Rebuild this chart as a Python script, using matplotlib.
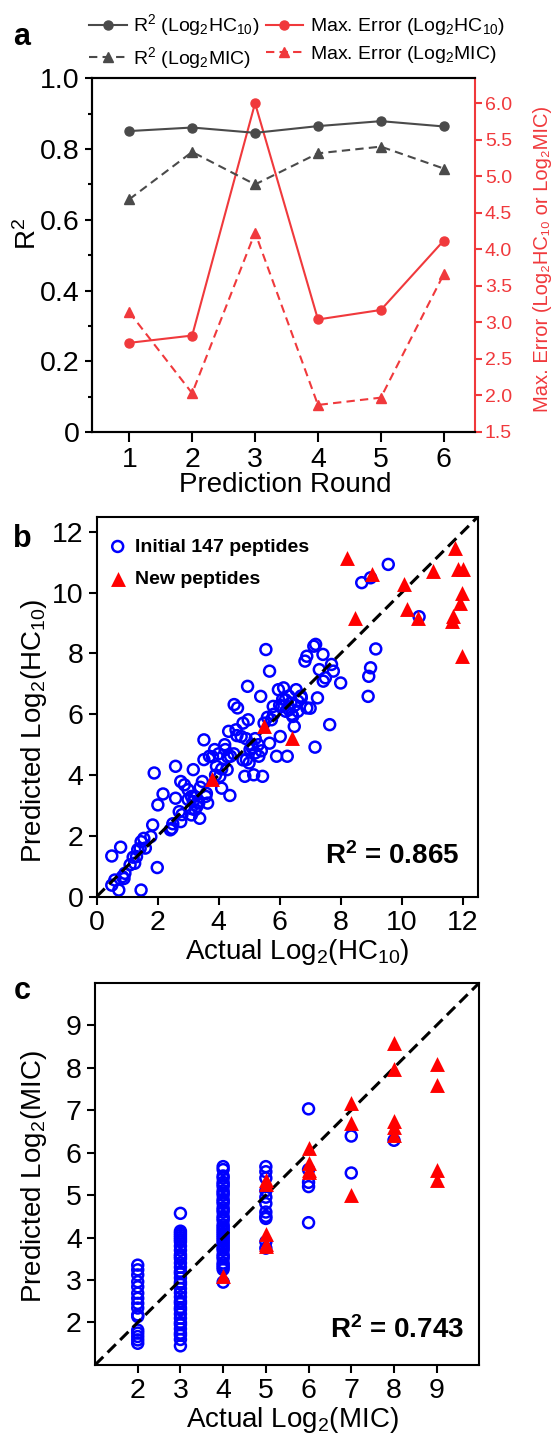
import matplotlib
matplotlib.use('Agg')
import matplotlib.pyplot as plt
import numpy as np
from matplotlib.ticker import MultipleLocator

plt.rcParams['font.family'] = ['Liberation Sans', 'DejaVu Sans']
plt.rcParams['mathtext.fontset'] = 'custom'
plt.rcParams['mathtext.rm'] = 'Liberation Sans'
plt.rcParams['mathtext.it'] = 'Liberation Sans:italic'
plt.rcParams['mathtext.bf'] = 'Liberation Sans:bold'

# ---------------- Panel a data ----------------
rounds = [1, 2, 3, 4, 5, 6]
r2_hc10 = [0.851, 0.861, 0.846, 0.865, 0.879, 0.864]
r2_mic = [0.658, 0.792, 0.700, 0.788, 0.807, 0.745]
maxerr_hc10 = [2.72, 2.82, 6.00, 3.04, 3.17, 4.12]
maxerr_mic = [3.14, 2.03, 4.23, 1.87, 1.97, 3.66]
r2_ticks = [0, 0.2, 0.4, 0.6, 0.8, 1.0]
r2_ticklabels = ['0', '0.2', '0.4', '0.6', '0.8', '1.0']
err_ticks = [1.5, 2.0, 2.5, 3.0, 3.5, 4.0, 4.5, 5.0, 5.5, 6.0]

# ---------------- Panel b data (HC10) ----------------
b_init_actual = [0.50, 0.79, 0.50, 0.73, 0.85, 0.93, 1.46, 1.25, 1.31, 1.43, 1.46, 1.55,
                 1.78, 1.84, 1.99, 1.89, 2.01, 2.18, 2.42, 2.47, 2.59, 2.59, 2.71, 2.76,
                 2.76, 2.88, 3.00, 3.11, 3.17, 3.23, 3.11, 3.29, 3.35, 3.38, 3.17, 3.52,
                 3.52, 3.64, 3.58, 3.47, 3.70, 3.87, 3.93, 4.04, 4.10, 4.22, 4.28, 4.37,
                 4.33, 4.39, 4.51, 4.62, 4.57, 4.74, 4.80, 4.86, 4.91, 4.95, 4.97, 5.03,
                 5.09, 5.15, 5.20, 5.32, 5.38, 5.44, 5.49, 5.55, 5.67, 5.67, 5.73, 5.79,
                 5.90, 6.02, 5.96, 6.07, 6.13, 6.19, 6.25, 6.31, 6.37, 6.43, 6.48, 6.54,
                 6.60, 6.71, 6.83, 6.89, 6.89, 7.12, 7.18, 7.24, 7.16, 7.30, 7.42, 7.43,
                 7.64, 7.70, 7.76, 8.00, 8.69, 8.98, 9.56, 8.98, 8.92, 8.90, 9.15, 10.57,
                 1.10, 1.20, 1.35, 1.60, 0.60, 0.90, 2.50, 2.80, 3.00, 3.10, 3.20, 3.30,
                 3.40, 3.60, 3.80, 3.90, 4.00, 4.10, 4.20, 4.30, 4.50, 4.60, 4.80, 4.90,
                 5.00, 5.10, 5.20, 5.30, 5.40, 5.60, 5.80, 6.00, 6.10, 6.20, 6.30, 6.40,
                 6.50, 6.60, 6.70, 7.00, 7.50]
b_init_pred = [1.34, 1.63, 0.38, 0.22, 0.66, 0.77, 0.22, 1.10, 1.32, 1.59, 1.81, 1.92,
               1.98, 2.36, 0.96, 4.07, 3.02, 3.38, 2.20, 2.25, 3.24, 4.29, 2.80, 2.47,
               3.79, 3.68, 3.52, 3.30, 3.13, 2.86, 2.69, 2.97, 3.08, 2.58, 4.18, 5.16,
               4.51, 3.08, 3.30, 3.79, 4.62, 4.84, 4.29, 3.96, 3.57, 4.84, 4.18, 3.33,
               5.44, 4.62, 6.32, 6.21, 5.49, 5.27, 5.71, 3.96, 4.51, 6.92, 5.82, 4.84,
               5.00, 4.01, 4.73, 4.62, 6.59, 3.96, 5.71, 8.13, 5.05, 7.42, 5.82, 6.26,
               4.62, 5.27, 6.81, 6.26, 6.87, 6.48, 4.62, 6.15, 6.37, 5.93, 5.60, 6.81,
               6.43, 6.54, 7.75, 7.91, 6.21, 8.24, 8.30, 6.54, 4.92, 7.47, 7.97, 7.09,
               5.66, 7.64, 7.42, 7.03, 10.33, 10.49, 10.93, 7.53, 7.25, 6.59, 8.15, 9.21,
               1.05, 1.30, 1.55, 1.60, 0.55, 0.60, 2.40, 2.70, 3.20, 2.90, 3.30, 3.10,
               3.60, 3.40, 4.60, 4.00, 4.70, 4.20, 5.00, 4.60, 4.70, 5.30, 4.50, 5.20,
               4.40, 4.90, 5.20, 5.00, 4.80, 5.90, 6.00, 6.30, 6.50, 6.10, 6.60, 6.00,
               6.30, 6.10, 6.60, 6.20, 7.20]
b_new_actual = [8.20, 9.04, 8.46, 10.08, 10.17, 10.53, 11.04, 11.74, 11.83, 12.00,
                11.97, 11.92, 11.69, 11.65, 11.97, 5.49, 6.42, 3.79]
b_new_pred = [11.15, 10.60, 9.18, 10.30, 9.45, 9.18, 10.71, 11.48, 10.77, 10.77,
              10.00, 9.67, 9.23, 9.07, 7.91, 5.63, 5.22, 3.87]
b_ticks = [0, 2, 4, 6, 8, 10, 12]

# ---------------- Panel c data (MIC) ----------------
c_init_at2 = [3.35, 3.24, 3.12, 2.96, 2.84, 2.69, 2.57, 2.45, 2.34, 2.18, 2.14,
              1.82, 1.75, 1.67, 1.59, 1.51]
c_init_at3 = [4.57, 4.15, 4.10, 4.05, 4.00, 3.95, 3.90, 3.80, 3.70, 3.60, 3.55, 3.50,
              3.40, 3.30, 3.20, 3.15, 3.05, 2.95, 2.90, 2.80, 2.70, 2.60, 2.50, 2.45,
              2.35, 2.30, 2.20, 2.10, 2.00, 1.95, 1.85, 1.75, 1.70, 1.60, 1.45]
c_init_at4 = [2.95, 3.25, 3.30, 3.35, 3.40, 3.50, 3.55, 3.60, 3.70, 3.75, 3.80, 3.85,
              3.90, 3.95, 4.00, 4.05, 4.10, 4.15, 4.20, 4.25, 4.30, 4.40, 4.45, 4.50,
              4.60, 4.65, 4.70, 4.80, 4.85, 4.90, 5.00, 5.05, 5.10, 5.20, 5.25, 5.30,
              5.40, 5.45, 5.60, 5.67]
c_init_at5 = [5.67, 5.55, 5.40, 5.10, 4.95, 4.80, 4.60, 4.50, 4.45, 3.90, 3.75]
c_init_at6 = [7.03, 5.60, 5.30, 5.20, 4.35]
c_init_at7 = [6.39, 5.52]
c_init_at8 = [6.29]
c_new_actual = [4, 5, 5, 5, 5, 5, 6, 6, 6, 6, 7, 7, 7, 8, 8, 8, 8, 8, 9, 9, 9, 9]
c_new_pred = [3.10, 5.35, 5.25, 4.09, 3.85, 3.80, 6.10, 5.75, 5.60, 5.55, 7.16, 6.70,
              4.99, 8.58, 7.97, 6.74, 6.60, 6.41, 8.09, 7.60, 5.59, 5.35]
c_ticks = [2, 3, 4, 5, 6, 7, 8, 9]

GRAY = '#4a4a4a'
RED = '#F0393C'
BLUE = '#0000FF'
TRI_RED = '#FF0000'

fig = plt.figure(figsize=(5.56, 14.38), dpi=100)

# ================= Panel a =================
axa = fig.add_axes([0.1646, 0.6996, 0.6901, 0.2459])
ax2 = axa.twinx()
axa.set_zorder(ax2.get_zorder() + 1)
axa.patch.set_visible(False)

l1, = axa.plot(rounds, r2_hc10, color=GRAY, lw=1.5, marker='o', ms=6.5,
               label=r'R$^2$ (Log$_2$HC$_{10}$)')
l2, = axa.plot(rounds, r2_mic, color=GRAY, lw=1.5, ls=(0, (4, 2.5)), marker='^', ms=7,
               label=r'R$^2$ (Log$_2$MIC)')
l3, = ax2.plot(rounds, maxerr_hc10, color=RED, lw=1.5, marker='o', ms=6.5,
               label=r'Max. Error (Log$_2$HC$_{10}$)')
l4, = ax2.plot(rounds, maxerr_mic, color=RED, lw=1.5, ls=(0, (4, 2.5)), marker='^', ms=7,
               label=r'Max. Error (Log$_2$MIC)')

axa.set_xlim(0.4, 6.5)
axa.set_ylim(0, 1.0)
ax2.set_ylim(1.5, 6.34)
axa.set_xticks(rounds)
axa.set_yticks(r2_ticks)
axa.set_yticklabels(r2_ticklabels)
axa.yaxis.set_minor_locator(MultipleLocator(0.1))
ax2.set_yticks(err_ticks)
axa.tick_params(axis='both', which='major', labelsize=20.5, direction='out', width=1.5, length=5)
axa.tick_params(axis='x', length=7)
axa.tick_params(axis='y', which='minor', direction='out', width=1.5, length=3)
ax2.tick_params(axis='y', colors=RED, labelsize=14, direction='out', width=1.5, length=5, pad=2)
for sp in ['left', 'bottom', 'top']:
    axa.spines[sp].set_linewidth(1.5)
    ax2.spines[sp].set_linewidth(1.5)
axa.spines['right'].set_visible(False)
ax2.spines['right'].set_color(RED)
ax2.spines['right'].set_linewidth(1.5)

axa.set_ylabel(r'R$^2$', fontsize=20, va='center')
axa.yaxis.set_label_coords(-0.165, 0.56)
axa.set_xlabel('Prediction Round', fontsize=20, va='center')
axa.xaxis.set_label_coords(0.504, -0.15)
ax2.set_ylabel('Max. Error (Log\u2082HC\u2081\u2080 or Log\u2082MIC)', fontsize=14.5,
               color=RED, va='center', rotation=90)
ax2.yaxis.set_label_coords(1.175, 0.49)

fig.legend(handles=[l1, l2, l3, l4], loc='upper left', bbox_to_anchor=(0.160, 0.9914),
           ncol=2, frameon=False, fontsize=14, handlelength=1.95, handletextpad=0.33,
           columnspacing=0.3, labelspacing=0.35, borderpad=0, borderaxespad=0)

# ================= Panel b =================
axb = fig.add_axes([0.1736, 0.3764, 0.6861, 0.2643])
axb.scatter(b_init_actual, b_init_pred, s=62, facecolors='none', edgecolors=BLUE,
            linewidths=1.8, zorder=2, label='Initial 147 peptides')
axb.plot([0, 12.5], [0, 12.5], color='black', lw=2.2, ls=(0, (3.8, 2.0)), zorder=3)
axb.scatter(b_new_actual, b_new_pred, s=115, marker='^', color=TRI_RED, zorder=4,
            label='New peptides', linewidths=0)
axb.set_xlim(0, 12.5)
axb.set_ylim(0, 12.5)
axb.set_xticks(b_ticks)
axb.set_yticks(b_ticks)
axb.tick_params(axis='both', labelsize=20.5, direction='out', width=1.5, length=6)
for sp in axb.spines.values():
    sp.set_linewidth(1.5)
axb.set_xlabel(r'Actual Log$_2$(HC$_{10}$)', fontsize=20, va='center')
axb.xaxis.set_label_coords(0.525, -0.146)
axb.set_ylabel(r'Predicted Log$_2$(HC$_{10}$)', fontsize=20, va='center')
axb.yaxis.set_label_coords(-0.165, 0.436)
axb.legend(loc='upper left', bbox_to_anchor=(0.030, 0.944), frameon=False,
           prop={'weight': 'bold', 'size': 14}, scatterpoints=1, handlelength=1.0,
           handletextpad=0.4, labelspacing=0.75, borderpad=0, borderaxespad=0)
axb.text(11.9, 1.35, r'$\mathbf{R^2}$ = 0.865', fontsize=20,
         ha='right', va='center', fontweight='bold')

# ================= Panel c =================
axc = fig.add_axes([0.1709, 0.0508, 0.6913, 0.2658])
c_cols = [(2, c_init_at2), (3, c_init_at3), (4, c_init_at4), (5, c_init_at5),
          (6, c_init_at6), (7, c_init_at7), (8, c_init_at8)]
cx = np.concatenate([np.full(len(v), k, dtype=float) for k, v in c_cols])
cy = np.concatenate([np.asarray(v, dtype=float) for k, v in c_cols])
axc.scatter(cx, cy, s=62, facecolors='none', edgecolors=BLUE, linewidths=1.8, zorder=2)
axc.plot([1, 10], [1, 10], color='black', lw=2.2, ls=(0, (3.8, 2.0)), zorder=3)
axc.scatter(c_new_actual, c_new_pred, s=115, marker='^', color=TRI_RED, zorder=4,
            linewidths=0)
axc.set_xlim(1, 10)
axc.set_ylim(1, 10)
axc.set_xticks(c_ticks)
axc.set_yticks(c_ticks)
axc.tick_params(axis='both', labelsize=20.5, direction='out', width=1.5, length=6)
for sp in axc.spines.values():
    sp.set_linewidth(1.5)
axc.set_xlabel(r'Actual Log$_2$(MIC)', fontsize=20, va='center')
axc.xaxis.set_label_coords(0.514, -0.144)
axc.set_ylabel(r'Predicted Log$_2$(MIC)', fontsize=20, va='center')
axc.yaxis.set_label_coords(-0.16, 0.492)
axc.text(9.65, 1.82, r'$\mathbf{R^2}$ = 0.743', fontsize=20,
         ha='right', va='center', fontweight='bold')

# panel letters
fig.text(0.0387, 0.9746, 'a', fontsize=22, fontweight='bold', ha='center', va='center')
fig.text(0.0396, 0.6252, 'b', fontsize=22, fontweight='bold', ha='center', va='center')
fig.text(0.0396, 0.3108, 'c', fontsize=22, fontweight='bold', ha='center', va='center')

fig.savefig('out.png', dpi=100)
